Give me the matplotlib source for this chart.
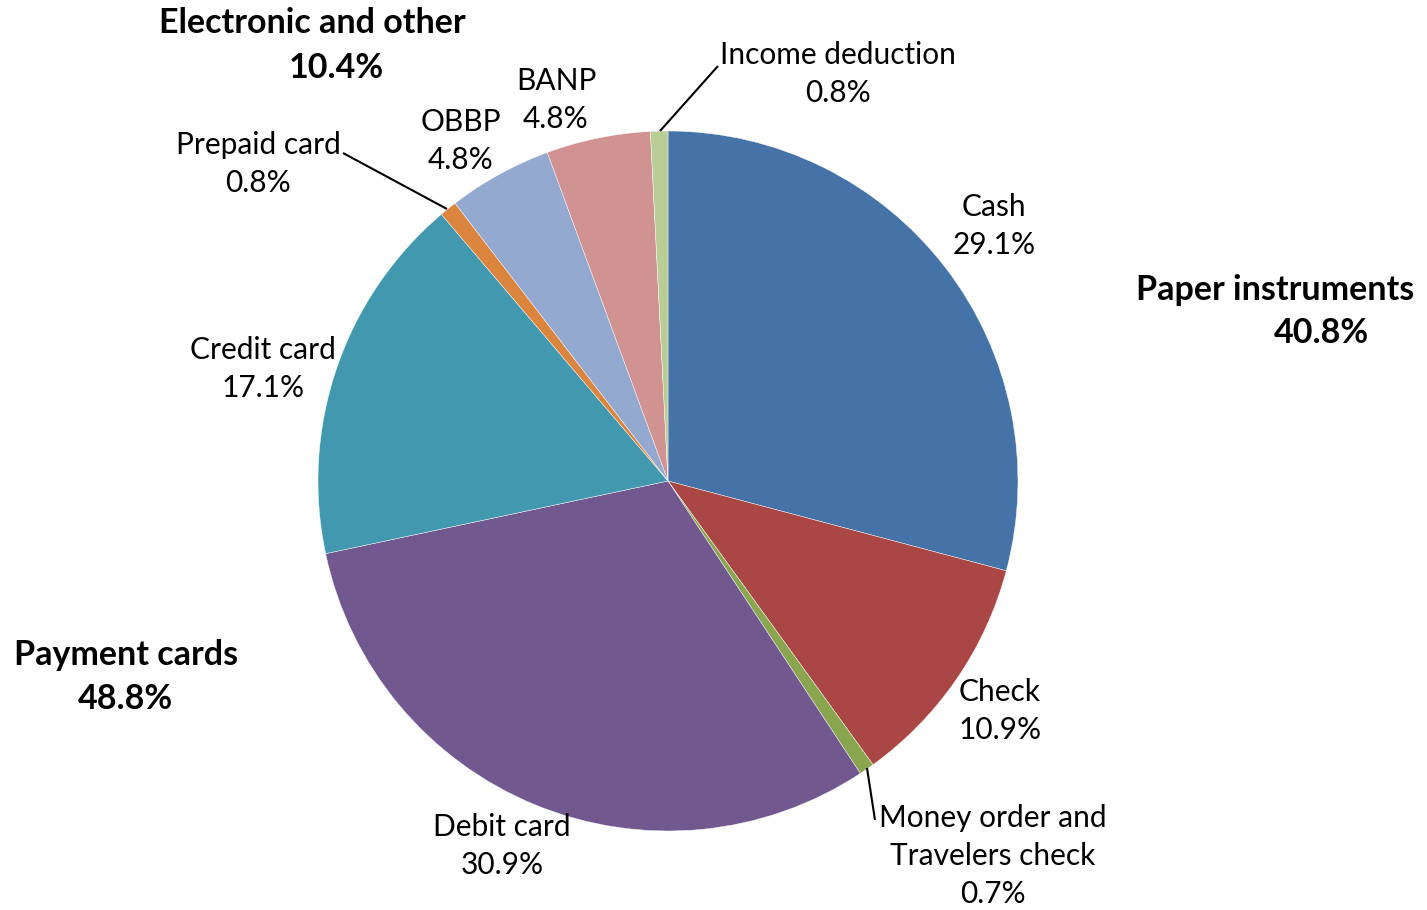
import matplotlib
matplotlib.use("Agg")
import matplotlib.pyplot as plt

# Payment instrument shares (%), clockwise from 12 o'clock
categories = ["Cash", "Check", "Money order and\nTravelers check", "Debit card",
              "Credit card", "Prepaid card", "OBBP", "BANP", "Income deduction"]
shares = [29.1, 10.9, 0.7, 30.9, 17.1, 0.8, 4.8, 4.8, 0.8]
colors = ["#4572A7", "#AA4643", "#89A54E", "#71588F", "#4198AF",
          "#DB843D", "#93A9CF", "#D19392", "#B9CD96"]

groups = ["Paper instruments", "Payment cards", "Electronic and other"]
group_shares = [40.8, 48.8, 10.4]

W, H = 1427, 910
plt.rcParams["font.family"] = ["Lato", "DejaVu Sans"]

fig = plt.figure(figsize=(W / 100, H / 100), dpi=100)
ax = fig.add_axes([0, 0, 1, 1])

cx, cy, r = 668, H - 481, 350
ax.pie(shares, colors=colors, startangle=90, counterclock=False,
       center=(cx, cy), radius=r, frame=True,
       wedgeprops=dict(linewidth=0.3, edgecolor="white"))
ax.set_xlim(0, W)
ax.set_ylim(0, H)
ax.set_aspect("equal")
ax.axis("off")

fs = 21.5

def py(y):
    return H - y

# slice labels: (x, y) centre of the text block in pixel coordinates
label_pos = [(994, 226), (1000, 711), (993, 856), (502, 846), (263, 369),
             (258, 164), (461, 141), (556, 100), (838, 74)]
for name, val, (x, y) in zip(categories, shares, label_pos):
    ax.text(x, py(y), f"{name}\n{val:.1f}%", ha="center", va="center",
            fontsize=fs, linespacing=1.45, color="black")

# leader lines for the thin slices
leaders = [((867, 768), (875, 820)), ((447, 209), (343, 153)), ((660, 131), (718, 66))]
for (x0, y0), (x1, y1) in leaders:
    ax.plot([x0, x1], [py(y0), py(y1)], color="black", lw=1.5, solid_capstyle="butt")

# group totals
gfs = 24.5
group_pos = [((1275, 290), (1321, 333)), ((126, 655), (125, 699)), ((312, 23), (336, 68))]
for g, v, (p1, p2) in zip(groups, group_shares, group_pos):
    ax.text(p1[0], py(p1[1]), g, ha="center", va="center", fontsize=gfs,
            fontweight="bold", color="black")
    ax.text(p2[0], py(p2[1]), f"{v:.1f}%", ha="center", va="center", fontsize=gfs,
            fontweight="bold", color="black")

fig.savefig("out.png", dpi=100, facecolor="white")
